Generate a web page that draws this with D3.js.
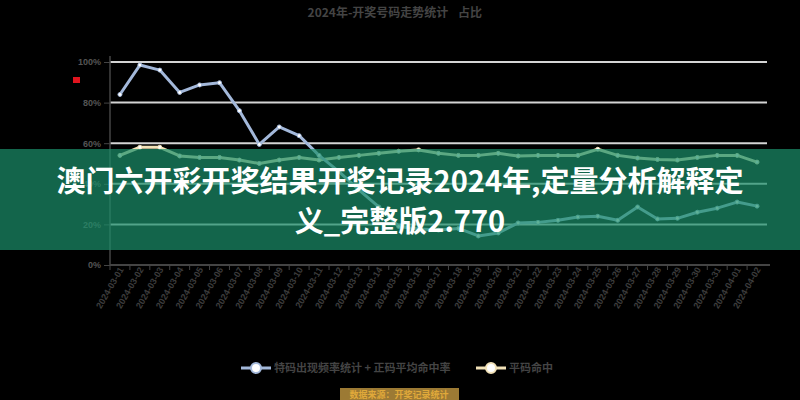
<!DOCTYPE html>
<html>
<head>
<meta charset="utf-8">
<script src="https://cdn.jsdelivr.net/npm/d3@7/dist/d3.min.js"></script>
<style>
  html, body { margin: 0; padding: 0; background: #000; }
  svg { display: block; font-family: "Noto Sans CJK SC", "Noto Sans", sans-serif; }
</style>
</head>
<body>
<svg width="800" height="400"></svg>
<script>
// Даты тиражей (ось X)
const categories = [
    "2024-03-01", "2024-03-02", "2024-03-03", "2024-03-04", "2024-03-05", "2024-03-06",
    "2024-03-07", "2024-03-08", "2024-03-09", "2024-03-10", "2024-03-11", "2024-03-12",
    "2024-03-13", "2024-03-14", "2024-03-15", "2024-03-16", "2024-03-17", "2024-03-18",
    "2024-03-19", "2024-03-20", "2024-03-21", "2024-03-22", "2024-03-23", "2024-03-24",
    "2024-03-25", "2024-03-26", "2024-03-27", "2024-03-28", "2024-03-29", "2024-03-30",
    "2024-03-31", "2024-04-01", "2024-04-02"
];

const seriesA = [
    84, 98.5, 96, 85, 88.7, 89.8, 76, 59.4, 68, 63.7, 54,
    46, 37, 28.6, 19, 17.7, 17.2, 18, 14.3, 15.8, 20.7, 21,
    22, 23.6, 24, 22, 28.6, 22.7, 23, 26, 28, 31, 29
];

const seriesB = [
    54, 58, 58, 53.7, 53, 53, 51.7, 50, 51.7, 53, 51.7,
    53, 54, 55, 56, 56.7, 55, 54, 54, 55, 53.7, 54,
    54, 54, 57, 54, 52.7, 52, 51.7, 53, 54, 54, 50.7
];

const yTicks = [0, 20, 40, 60, 80, 100];

const seriesNames = ["特码出现频率统计 + 正码平均命中率", "平码命中"];
const seriesColors = ["#a3b8da", "#f2e2b8"];

const titleMain = "2024年-开奖号码走势统计";
const titleSub = "占比";
const bannerLines = ["澳门六开彩开奖结果开奖记录2024年,定量分析解释定", "义_完整版2.770"];
const sourceText = "数据来源：开奖记录统计";

function drawChart() {
    const svg = d3.select("svg");
    const area = { left: 110, right: 767, top: 62, bottom: 265 };

    const scaleX = d3.scaleBand()
        .domain(categories)
        .range([area.left, area.right]);

    const scaleY = d3.scaleLinear()
        .domain([0, 100])
        .range([area.bottom, area.top]);

    // сетка
    svg.append("g")
        .selectAll("line")
        .data(yTicks.filter(d => d > 0))
        .enter()
        .append("line")
        .attr("x1", area.left)
        .attr("x2", area.right)
        .attr("y1", d => scaleY(d))
        .attr("y2", d => scaleY(d))
        .attr("stroke", "#d4d4d4")
        .attr("stroke-width", 2);

    // ось Y
    const axisY = d3.axisLeft(scaleY)
        .tickValues(yTicks)
        .tickSize(6)
        .tickFormat(d => d + "%");

    const gY = svg.append("g")
        .attr("transform", `translate(${area.left}, 0)`)
        .call(axisY);
    gY.select(".domain").attr("stroke", "#444").attr("stroke-width", 1.5).attr("d", `M0,${area.top - 6}V${area.bottom}`);
    gY.selectAll(".tick line").attr("stroke", "#444");
    gY.selectAll("text")
        .attr("fill", "#555")
        .style("font-size", "9px")
        .style("font-weight", "bold");

    // ось X
    const axisX = d3.axisBottom(scaleX).tickSize(0);
    const gX = svg.append("g")
        .attr("transform", `translate(0, ${area.bottom})`)
        .call(axisX);
    gX.select(".domain").attr("stroke", "#444").attr("stroke-width", 2).attr("d", `M${area.left},0H${area.right + 3}`);
    gX.selectAll("text")
        .attr("fill", "#3c3c3c")
        .style("font-size", "9px")
        .style("font-weight", "bold")
        .style("text-anchor", "end")
        .attr("dx", "-0.2em")
        .attr("dy", "0.3em")
        .attr("transform", "rotate(-60)");

    svg.append("g")
        .selectAll("line")
        .data(categories)
        .enter()
        .append("line")
        .attr("x1", d => scaleX(d))
        .attr("x2", d => scaleX(d))
        .attr("y1", area.bottom)
        .attr("y2", area.bottom + 5)
        .attr("stroke", "#444");

    // линии серий
    const cx = (d, i) => scaleX(categories[i]) + scaleX.bandwidth() / 2;
    [seriesB, seriesA].forEach((series, k) => {
        const color = k === 0 ? seriesColors[1] : seriesColors[0];
        const line = d3.line()
            .x(cx)
            .y(d => scaleY(d));

        svg.append("path")
            .datum(series)
            .attr("fill", "none")
            .attr("stroke", color)
            .attr("stroke-width", 3)
            .attr("stroke-linejoin", "round")
            .attr("d", line);

        svg.append("g")
            .selectAll("circle")
            .data(series)
            .enter()
            .append("circle")
            .attr("cx", cx)
            .attr("cy", d => scaleY(d))
            .attr("r", 2)
            .attr("fill", "#fff")
            .attr("stroke", color)
            .attr("stroke-width", 1);
    });

    // красный маркер слева
    svg.append("rect")
        .attr("x", 73)
        .attr("y", 77)
        .attr("width", 7)
        .attr("height", 6)
        .attr("fill", "#e0141e");

    // заголовок
    svg.append("text")
        .attr("x", 378)
        .attr("y", 17)
        .attr("text-anchor", "middle")
        .attr("fill", "#444")
        .style("font-size", "12px")
        .style("font-weight", "bold")
        .text(titleMain);

    svg.append("text")
        .attr("x", 470)
        .attr("y", 17)
        .attr("text-anchor", "middle")
        .attr("fill", "#444")
        .style("font-size", "12px")
        .style("font-weight", "bold")
        .text(titleSub);

    // легенда
    const legendData = [
        { text: seriesNames[0], color: seriesColors[0], x: 241 },
        { text: seriesNames[1], color: seriesColors[1], x: 476 }
    ];
    const legend = svg.append("g").attr("transform", "translate(0, 368)");
    legend.selectAll("line")
        .data(legendData)
        .enter()
        .append("line")
        .attr("x1", d => d.x)
        .attr("x2", d => d.x + 30)
        .attr("y1", 0)
        .attr("y2", 0)
        .attr("stroke", d => d.color)
        .attr("stroke-width", 3);
    legend.selectAll("circle")
        .data(legendData)
        .enter()
        .append("circle")
        .attr("cx", d => d.x + 15)
        .attr("cy", 0)
        .attr("r", 5)
        .attr("fill", "#fff")
        .attr("stroke", d => d.color)
        .attr("stroke-width", 2);
    legend.selectAll("text")
        .data(legendData)
        .enter()
        .append("text")
        .attr("x", d => d.x + 33)
        .attr("y", 4)
        .attr("fill", "#444")
        .style("font-size", "11px")
        .style("font-weight", "bold")
        .text(d => d.text);

    // плашка источника
    svg.append("rect")
        .attr("x", 340)
        .attr("y", 388)
        .attr("width", 119)
        .attr("height", 12)
        .attr("fill", "#9c7a34");
    svg.append("text")
        .attr("x", 399)
        .attr("y", 398)
        .attr("text-anchor", "middle")
        .attr("fill", "#e0a93a")
        .style("font-size", "9px")
        .style("font-weight", "bold")
        .text(sourceText);

    // зелёный баннер поверх графика
    svg.append("rect")
        .attr("x", 0)
        .attr("y", 149)
        .attr("width", 800)
        .attr("height", 101)
        .attr("fill", "#1b906b")
        .attr("fill-opacity", 0.7);

    svg.append("g")
        .selectAll("text")
        .data(bannerLines)
        .enter()
        .append("text")
        .attr("x", 400)
        .attr("y", (d, i) => 192 + i * 40)
        .attr("text-anchor", "middle")
        .attr("fill", "#fff")
        .style("font-size", "29px")
        .style("font-weight", "bold")
        .text(d => d);
}

drawChart();
</script>
</body>
</html>
